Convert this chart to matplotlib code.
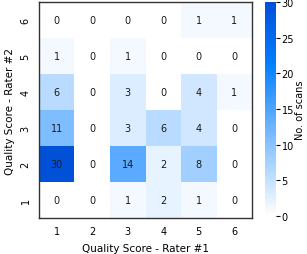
import numpy as np
import matplotlib
matplotlib.use("Agg")
import matplotlib.pyplot as plt
from matplotlib.colors import LinearSegmentedColormap

# rater #1 scores along x, rater #2 scores along y
rater1_scores = [1, 2, 3, 4, 5, 6]
rater2_scores = [1, 2, 3, 4, 5, 6]

# counts[i][j] -> rater #2 score i+1, rater #1 score j+1
counts = np.array([
    [0, 0, 1, 2, 1, 0],
    [30, 0, 14, 2, 8, 0],
    [11, 0, 3, 6, 4, 0],
    [6, 0, 3, 0, 4, 1],
    [1, 0, 1, 0, 0, 0],
    [0, 0, 0, 0, 1, 1],
])

cmap = LinearSegmentedColormap.from_list(
    "scans", [(0.0, "#ffffff"), (0.72, "#007dff"), (1.0, "#0050d8")])

fig = plt.figure(figsize=(3.07, 2.55), dpi=100)
ax = fig.add_axes([0.127, 0.141, 0.694, 0.847])
cax = fig.add_axes([0.863, 0.149, 0.036, 0.839])

mesh = ax.pcolormesh(counts, cmap=cmap, vmin=0, vmax=30)
for i in range(len(rater2_scores)):
    for j in range(len(rater1_scores)):
        ax.text(j + 0.5, i + 0.5, str(counts[i, j]), ha="center", va="center",
                fontsize=7, color="#1a1a1a")

ax.set_xticks(np.arange(len(rater1_scores)) + 0.5)
ax.set_xticklabels(rater1_scores)
ax.set_yticks(np.arange(len(rater2_scores)) + 0.5)
ax.set_yticklabels(rater2_scores, rotation=90, va="center")
ax.tick_params(length=0, labelsize=7, pad=6)
ax.set_xlabel("Quality Score - Rater #1", fontsize=7.5, labelpad=5)
ax.set_ylabel("Quality Score - Rater #2", fontsize=7.5, labelpad=4)
for sp in ax.spines.values():
    sp.set_color("#333333")
    sp.set_linewidth(1.0)

cb = fig.colorbar(mesh, cax=cax, ticks=[0, 5, 10, 15, 20, 25, 30])
cb.outline.set_visible(False)
cb.ax.tick_params(labelsize=7, length=3, width=0.8, pad=1)
cb.set_label("No. of scans", fontsize=7, labelpad=1)

fig.savefig("out.png", dpi=100)
